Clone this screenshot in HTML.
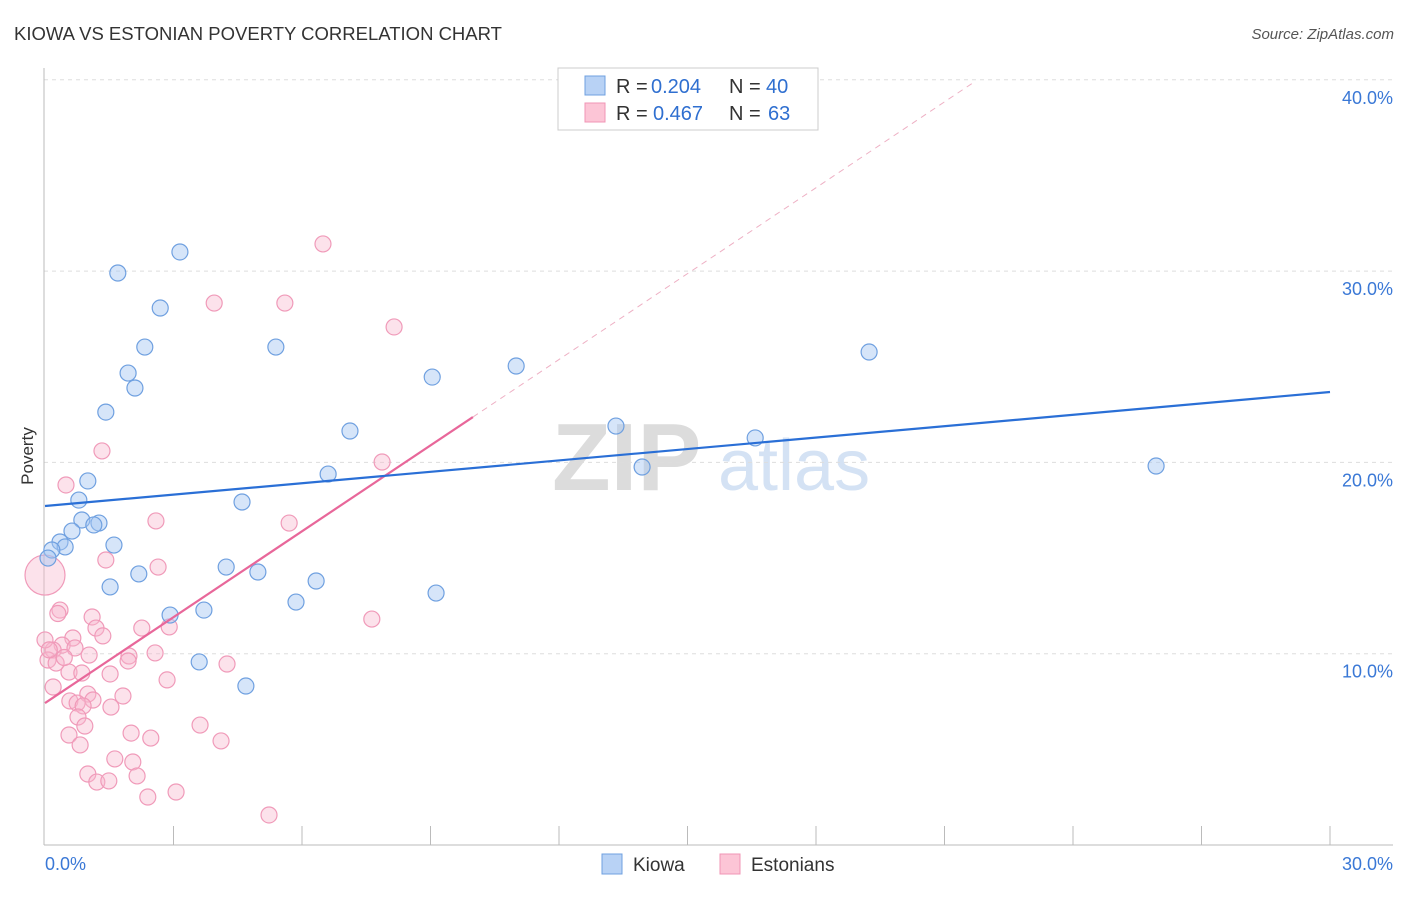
<!DOCTYPE html>
<html><head><meta charset="utf-8"><style>
body{margin:0;background:#fff;font-family:"Liberation Sans",sans-serif}
svg text{font-family:"Liberation Sans",sans-serif}
</style></head><body>
<svg id="chart" width="1406" height="892" xmlns="http://www.w3.org/2000/svg">
<text x="14" y="40" font-size="18.5" fill="#333">KIOWA VS ESTONIAN POVERTY CORRELATION CHART</text>
<text x="1394" y="39" font-size="15" fill="#555" font-style="italic" text-anchor="end">Source: ZipAtlas.com</text>
<g font-size="96" font-weight="bold">
<text x="552" y="490" fill="#dcdcdc" font-family="Liberation Serif">ZIP</text>
<text x="718" y="490" fill="#d4e2f4" font-weight="normal" font-size="72">atlas</text>
</g>
<g id="grid"></g>
<g id="axes"></g>
<g id="marks"></g>
<text transform="translate(33,456) rotate(-90)" font-size="17" fill="#333" text-anchor="middle">Poverty</text>
<g font-size="20">
<rect x="558" y="68" width="260" height="62" fill="#fff" stroke="#ccc"/>
<rect x="585" y="76" width="20" height="19" fill="#b8d2f5" stroke="#6fa0e0"/>
<rect x="585" y="103" width="20" height="19" fill="#fcc5d6" stroke="#f095b5"/>
<text x="616" y="93" fill="#333">R =</text>
<text x="651" y="93" fill="#2f6fd0">0.204</text>
<text x="729" y="93" fill="#333">N =</text>
<text x="766" y="93" fill="#2f6fd0">40</text>
<text x="616" y="120" fill="#333">R =</text>
<text x="653" y="120" fill="#2f6fd0">0.467</text>
<text x="729" y="120" fill="#333">N =</text>
<text x="768" y="120" fill="#2f6fd0">63</text>
</g>
<g>
<rect x="602" y="854" width="20" height="20" fill="#b8d2f5" stroke="#6fa0e0"/>
<text x="633" y="871" font-size="19" fill="#333">Kiowa</text>
<rect x="720" y="854" width="20" height="20" fill="#fcc5d6" stroke="#f095b5"/>
<text x="751" y="871" font-size="19" fill="#333">Estonians</text>
</g>
</svg>
<script>
const xTicks=[0,30];
const yTicks=[10,20,30,40];
const kiowaX=[1.70,3.15,2.69,2.33,1.94,2.10,1.42,1.00,0.79,0.86,0.63,0.35,0.47,0.16,0.07,1.26,1.14,1.61,1.52,2.19,2.92,3.71,3.60,4.69,4.23,4.97,4.60,5.39,5.86,6.33,6.61,7.12,9.04,9.13,11.00,13.33,13.94,16.58,19.24,25.94];
const kiowaY=[29.90,31.00,28.07,26.03,24.67,23.89,22.63,19.03,18.03,16.99,16.41,15.84,15.58,15.42,15.00,16.83,16.73,15.68,13.49,14.17,12.02,12.28,9.57,8.31,14.53,14.27,17.93,26.03,12.70,13.80,19.39,21.64,24.46,13.17,25.04,21.90,19.76,21.28,25.77,19.81];
const estX=[6.49,3.95,5.60,8.15,7.87,5.70,7.63,2.59,2.64,1.33,0.49,1.42,0.35,1.10,1.19,1.35,0.65,0.40,0.70,1.03,0.19,0.07,0.26,1.96,1.94,2.26,2.90,2.57,4.25,2.85,1.52,0.56,0.86,0.19,1.82,1.00,1.12,0.58,0.75,0.89,1.54,0.77,0.93,0.56,0.82,2.01,2.47,3.62,4.11,1.63,2.05,1.00,2.15,1.21,1.49,2.40,3.06,5.23,0.00,0.00,0.30,0.45,0.10];
const estY=[31.42,28.33,28.33,27.08,20.02,16.83,11.81,16.94,14.53,20.60,18.82,14.90,12.28,11.92,11.34,10.93,10.82,10.45,10.30,9.93,10.19,9.67,9.51,9.88,9.62,11.34,11.40,10.04,9.46,8.63,8.94,9.04,8.99,8.26,7.79,7.89,7.58,7.53,7.42,7.27,7.21,6.69,6.22,5.75,5.23,5.85,5.59,6.27,5.44,4.50,4.34,3.71,3.61,3.29,3.35,2.51,2.77,1.57,10.72,14.11,12.10,9.80,10.20];
const kiowaTrend=[17.72,23.68];
const estTrend=[7.42,22.37];
const estDash=[9.99,21.7];
const X0=45,X1=1330,Y0=845,PPU=19.13;
const sx=v=>X0+(v/30)*(X1-X0);
const sy=v=>Y0-v*PPU;
const NS="http://www.w3.org/2000/svg";
function mk(t,a,p){const e=document.createElementNS(NS,t);for(const k in a)e.setAttribute(k,a[k]);p.appendChild(e);return e;}
const grid=document.getElementById('grid'),axes=document.getElementById('axes'),marks=document.getElementById('marks');
yTicks.forEach(t=>{
const l=mk('line',{x1:44,x2:1393,y1:sy(t),y2:sy(t),stroke:'#ddd','stroke-dasharray':'4,4'},grid);


const tx=mk('text',{x:1393,y:sy(t)+24,'font-size':18,fill:'#3a78d6','text-anchor':'end'},axes);
tx.textContent=t.toFixed(1)+'%';


});
mk('line',{x1:44,x2:44,y1:68,y2:845,stroke:'#bbb'},axes);
mk('line',{x1:44,x2:1393,y1:845,y2:845,stroke:'#bbb'},axes);
for(let i=1;i<=10;i++){const x=sx(i*3);mk('line',{x1:x,x2:x,y1:826,y2:845,stroke:'#bbb'},axes);}
xTicks.forEach((t,i)=>{
const tx=mk('text',{x:i==0?45:1393,y:870,'font-size':18,fill:'#3a78d6','text-anchor':i==0?'start':'end'},axes);
tx.textContent=t.toFixed(1)+'%';


});
estX.forEach((v,i)=>{
const r=(i==59)?20:8;
const c=mk('circle',{cx:sx(v),cy:sy(estY[i]),r:r,fill:'rgba(248,183,205,0.4)',stroke:'#f09ab9','stroke-width':1.2},marks);


});
kiowaX.forEach((v,i)=>{
const c=mk('circle',{cx:sx(v),cy:sy(kiowaY[i]),r:8,fill:'rgba(165,198,242,0.45)',stroke:'#6fa0e0','stroke-width':1.2},marks);


});
const slope=(estTrend[1]-estTrend[0])/estDash[0];
const d=mk('line',{x1:sx(estDash[0]),y1:sy(estTrend[1]),x2:sx(estDash[1]),y2:sy(estTrend[0]+slope*estDash[1]),stroke:'#eeb0c4','stroke-dasharray':'6,5','stroke-width':1},marks);


const pl=mk('line',{x1:sx(0),y1:sy(estTrend[0]),x2:sx(estDash[0]),y2:sy(estTrend[1]),stroke:'#e8679a','stroke-width':2.2},marks);


const bl=mk('line',{x1:sx(0),y1:sy(kiowaTrend[0]),x2:sx(30),y2:sy(kiowaTrend[1]),stroke:'#2a6fd6','stroke-width':2.2},marks);


</script>
</body></html>
